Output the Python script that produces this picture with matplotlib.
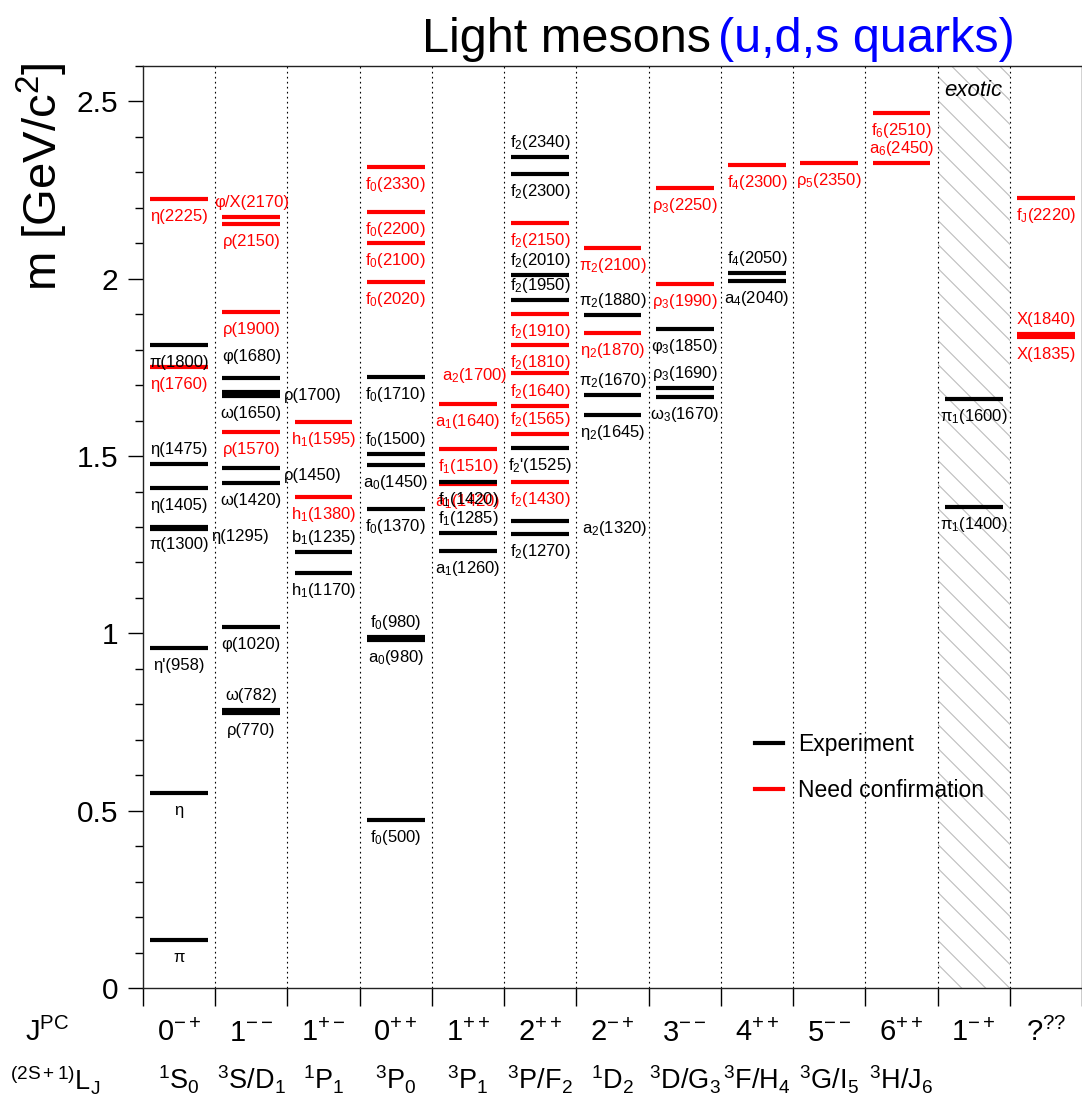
import numpy as np
import matplotlib
matplotlib.use('Agg')
import matplotlib.pyplot as plt
from matplotlib.lines import Line2D
from matplotlib.patches import Rectangle

plt.rcParams['font.family'] = ['Liberation Sans', 'DejaVu Sans']
plt.rcParams['mathtext.fontset'] = 'custom'
plt.rcParams['mathtext.rm'] = 'Liberation Sans'
plt.rcParams['mathtext.it'] = 'Liberation Sans:italic'
plt.rcParams['mathtext.bf'] = 'Liberation Sans:bold'
plt.rcParams['mathtext.default'] = 'regular'

W, H = 1082, 1108

# quantum numbers of the columns
jpc = ['0^{-+}', '1^{--}', '1^{+-}', '0^{++}', '1^{++}', '2^{++}', '2^{-+}',
       '3^{--}', '4^{++}', '5^{--}', '6^{++}', '1^{-+}', '?^{??}']
term = ['^1S_0', '^3S/D_1', '^1P_1', '^3P_0', '^3P_1', '^3P/F_2', '^1D_2',
        '^3D/G_3', '^3F/H_4', '^3G/I_5', '^3H/J_6', '', '']
exotic_col = 11

# one entry per state: column, mass [GeV], name, established (1) / needs confirmation (0)
col = [0, 0, 0, 0, 0, 0, 0, 0, 0, 0,
       1, 1, 1, 1, 1, 1, 1, 1, 1, 1, 1, 1,
       2, 2, 2, 2,
       3, 3, 3, 3, 3, 3, 3, 3, 3, 3, 3,
       4, 4, 4, 4, 4, 4,
       5, 5, 5, 5, 5, 5, 5, 5, 5, 5, 5, 5, 5, 5,
       6, 6, 6, 6, 6,
       7, 7, 7, 7, 7,
       8, 8, 8,
       9,
       10, 10,
       11, 11,
       12, 12, 12]
mass = [2.226, 1.812, 1.750, 1.479, 1.409, 1.300, 1.294, 0.958, 0.549, 0.135,
        2.175, 2.155, 1.907, 1.720, 1.680, 1.670, 1.569, 1.465, 1.425, 1.019, 0.783, 0.775,
        1.595, 1.386, 1.229, 1.170,
        2.316, 2.189, 2.102, 1.992, 1.722, 1.507, 1.476, 1.352, 0.990, 0.980, 0.473,
        1.648, 1.519, 1.420, 1.426, 1.282, 1.231,
        2.342, 2.296, 2.156, 2.012, 1.941, 1.902, 1.814, 1.733, 1.640, 1.561, 1.524, 1.428, 1.318, 1.279,
        2.088, 1.899, 1.846, 1.671, 1.617,
        2.257, 1.984, 1.857, 1.691, 1.668,
        2.322, 2.017, 1.995,
        2.327,
        2.468, 2.327,
        1.662, 1.355,
        2.229, 1.843, 1.836]
name = ['η(2225)', 'π(1800)', 'η(1760)', 'η(1475)', 'η(1405)', 'π(1300)', 'η(1295)', "η'(958)", 'η', 'π',
        'φ/X(2170)', 'ρ(2150)', 'ρ(1900)', 'ρ(1700)', 'φ(1680)', 'ω(1650)', 'ρ(1570)', 'ρ(1450)',
        'ω(1420)', 'φ(1020)', 'ω(782)', 'ρ(770)',
        'h_1(1595)', 'h_1(1380)', 'b_1(1235)', 'h_1(1170)',
        'f_0(2330)', 'f_0(2200)', 'f_0(2100)', 'f_0(2020)', 'f_0(1710)', 'f_0(1500)', 'a_0(1450)',
        'f_0(1370)', 'f_0(980)', 'a_0(980)', 'f_0(500)',
        'a_1(1640)', 'f_1(1510)', 'a_1(1420)', 'f_1(1420)', 'f_1(1285)', 'a_1(1260)',
        'f_2(2340)', 'f_2(2300)', 'f_2(2150)', 'f_2(2010)', 'f_2(1950)', 'f_2(1910)', 'f_2(1810)',
        'a_2(1700)', 'f_2(1640)', 'f_2(1565)', "f_2'(1525)", 'f_2(1430)', 'a_2(1320)', 'f_2(1270)',
        'π_2(2100)', 'π_2(1880)', 'η_2(1870)', 'π_2(1670)', 'η_2(1645)',
        'ρ_3(2250)', 'ρ_3(1990)', 'φ_3(1850)', 'ρ_3(1690)', 'ω_3(1670)',
        'f_4(2300)', 'f_4(2050)', 'a_4(2040)',
        'ρ_5(2350)',
        'f_6(2510)', 'a_6(2450)',
        'π_1(1600)', 'π_1(1400)',
        'f_J(2220)', 'X(1840)', 'X(1835)']
established = [0, 1, 0, 1, 1, 1, 1, 1, 1, 1,
               0, 0, 0, 1, 1, 1, 0, 1, 1, 1, 1, 1,
               0, 0, 1, 1,
               0, 0, 0, 0, 1, 1, 1, 1, 1, 1, 1,
               0, 0, 0, 1, 1, 1,
               1, 1, 0, 1, 1, 0, 0, 0, 0, 0, 1, 0, 1, 1,
               0, 1, 0, 1, 1,
               0, 0, 1, 1, 1,
               0, 1, 1,
               0,
               0, 0,
               1, 1,
               0, 0, 0]

# label placement: a(bove), b(elow), r(ight of column), l(eft of column)
side = ['b', 'b', 'b', 'a', 'b', 'b', 'r', 'b', 'b', 'b',
        'a', 'b', 'b', 'r', 'a', 'b', 'b', 'r', 'b', 'b', 'a', 'b',
        'b', 'b', 'a', 'b',
        'b', 'b', 'b', 'b', 'b', 'a', 'b', 'b', 'a', 'b', 'b',
        'b', 'b', 'b', 'b', 'a', 'b',
        'a', 'b', 'b', 'a', 'a', 'b', 'b', 'l', 'a', 'a', 'b', 'b', 'r', 'b',
        'b', 'a', 'b', 'a', 'b',
        'b', 'b', 'b', 'a', 'b',
        'b', 'a', 'b',
        'b',
        'b', 'a',
        'b', 'b',
        'b', 'a', 'b']
# extra shifts in pixels (dx, dy; dy positive = up)
nudge = {'φ(1680)': (0, 21), 'ρ(1700)': (0, -10), 'a_2(1320)': (9, 0)}


def tex(s):
    # subscript the character after '_' and leave the rest as plain text
    if '_' not in s:
        return s
    i = s.index('_')
    return '$' + s[:i + 2] + '$' + s[i + 2:]


PT = 0.72  # points per pixel at dpi 100
fig = plt.figure(figsize=(W / 100, H / 100), dpi=100)
ax = fig.add_axes([143 / W, (H - 988) / H, (W - 143) / W, (988 - 66) / H])
ax.set_xlim(0, 13)
ax.set_ylim(0, 2.6)

# hatched column of exotic quantum numbers
pos = ax.get_position()
ppx = pos.width * W / 13
ppy = pos.height * H / 2.6
rect = Rectangle((exotic_col, 0), 1, 2.6, facecolor='none', edgecolor='none')
ax.add_patch(rect)
run = 2.6 * ppy / ppx
for x0 in np.arange(exotic_col - run, exotic_col + 1, 24 / ppx):
    ln, = ax.plot([x0, x0 + run], [2.6, 0], color='#bdbdbd', lw=0.8, zorder=1)
    ln.set_clip_path(rect)
ax.annotate('exotic', xy=(exotic_col + 0.5, 2.6), xytext=(0, -30 * PT), textcoords='offset points',
            ha='center', va='baseline', fontsize=16, style='italic')

ax.vlines(np.arange(1, 13), 0, 2.6, colors='black', lw=0.8, linestyles=(0, (1.5, 3)), zorder=2)

for c, m, n, ok, s in zip(col, mass, name, established, side):
    color = 'black' if ok else 'red'
    ax.hlines(m, c + 0.1, c + 0.9, colors=color, lw=3.0, zorder=3)
    dx, dy = nudge.get(n, (0, 0))
    if s == 'a':
        x, ha, off = c + 0.5, 'center', 10
    elif s == 'b':
        x, ha, off = c + 0.5, 'center', -22
    elif s == 'r':
        x, ha, off = c + 0.95, 'left', -12
    else:
        x, ha, off = c + 0.04, 'right', -7
    ax.annotate(tex(n), xy=(x, m), xytext=(dx * PT, (off + dy) * PT), textcoords='offset points',
                ha=ha, va='baseline', fontsize=12, color=color, zorder=4)

# axes styling
for sp in ax.spines.values():
    sp.set_linewidth(1.0)
    sp.set_color('#222222')
ax.set_xticks(np.arange(0, 14))
ax.set_xticklabels([])
ax.tick_params(axis='x', direction='out', length=13, width=1.0, top=False)
ax.set_yticks(np.arange(0, 2.6, 0.5))
ax.set_yticklabels(['0', '0.5', '1', '1.5', '2', '2.5'])
ax.set_yticks(np.arange(0, 2.61, 0.1), minor=True)
ax.tick_params(axis='y', which='major', direction='out', length=10.8, width=1.0, labelsize=21.5, pad=7)
ax.tick_params(axis='y', which='minor', direction='out', length=5.8, width=1.0)
ax.tick_params(right=False)

# quantum number rows under the axis
for i in range(13):
    ax.annotate('$' + jpc[i] + '$', xy=(i + 0.5, 0), xycoords=('data', 'axes fraction'),
                xytext=(0, -53 * PT), textcoords='offset points', ha='center', va='baseline', fontsize=21)
    if term[i]:
        ax.annotate('$' + term[i] + '$', xy=(i + 0.5, 0), xycoords=('data', 'axes fraction'),
                    xytext=(0, -102 * PT), textcoords='offset points', ha='center', va='baseline', fontsize=19.5)
fig.text(47 / W, 1 - 1041 / H, '$J^{PC}$', ha='center', va='baseline', fontsize=21)
fig.text(55 / W, 1 - 1090 / H, '$^{(2S+1)}L_J$', ha='center', va='baseline', fontsize=19.5)

# axis title and figure title
fig.text(42 / W, 1 - 62 / H, 'm [GeV/c$^2$]', rotation=90, ha='center', va='top', fontsize=34)
fig.text(711 / W, 1 - 52 / H, 'Light mesons', ha='right', va='baseline', fontsize=35)
fig.text(718 / W, 1 - 52 / H, '(u,d,s quarks)', ha='left', va='baseline', fontsize=35, color='#0000ff')

# legend
for yy, c, t in [(743, 'black', 'Experiment'), (789, 'red', 'Need confirmation')]:
    fig.add_artist(Line2D([755 / W, 783 / W], [1 - yy / H, 1 - yy / H], color=c, lw=3.0,
                          transform=fig.transFigure))
    fig.text(798 / W, 1 - (yy + 8) / H, t, ha='left', va='baseline', fontsize=16.5)

fig.savefig('out.png', dpi=100)
